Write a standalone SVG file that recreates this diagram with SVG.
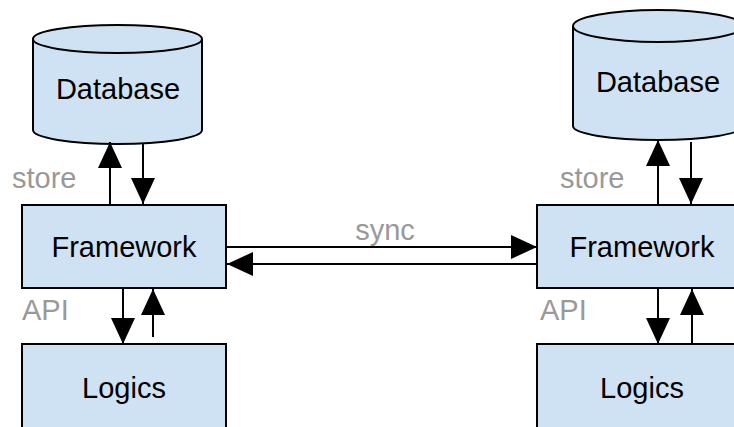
<svg xmlns="http://www.w3.org/2000/svg" width="734" height="427" viewBox="0 0 734 427">
  <style>
    .shape { fill: #cfe2f3; stroke: #000; stroke-width: 2; }
    .title { font-family: "Liberation Sans", Arial, sans-serif; font-size: 29px; fill: #000; text-anchor: middle; }
    .label { font-family: "Liberation Sans", Arial, sans-serif; font-size: 29px; fill: #999; }
    .link { stroke: #000; stroke-width: 2; fill: none; marker-end: url(#head); }
  </style>
  <defs>
    <marker id="head" markerUnits="userSpaceOnUse" markerWidth="26" markerHeight="26" viewBox="0 0 26 26" refX="26" refY="13" orient="auto">
      <path d="M0,1 L26,13 L0,25 Z" fill="#000"/>
    </marker>
  </defs>

  <rect width="734" height="427" fill="#fff"/>

  <!-- left stack -->
  <g id="db-left">
    <path class="shape" d="M33,39 L33,130 A84.5,14 0 0 0 202,130 L202,39 A84.5,14 0 0 0 33,39 Z"/>
    <path class="shape" d="M33,39 A84.5,14 0 0 0 202,39" fill="none"/>
    <text class="title" x="118" y="99">Database</text>
  </g>
  <g id="fw-left">
    <rect class="shape" x="22" y="205" width="204" height="83"/>
    <text class="title" x="124" y="257">Framework</text>
  </g>
  <g id="logic-left">
    <rect class="shape" x="22" y="344" width="204" height="100"/>
    <text class="title" x="124" y="398">Logics</text>
  </g>

  <!-- right stack -->
  <g id="db-right">
    <path class="shape" d="M573,26 L573,126 A85,14 0 0 0 743,126 L743,26 A85,16 0 0 0 573,26 Z"/>
    <path class="shape" d="M573,26 A85,16 0 0 0 743,26" fill="none"/>
    <text class="title" x="658" y="92">Database</text>
  </g>
  <g id="fw-right">
    <rect class="shape" x="537" y="205" width="210" height="83"/>
    <text class="title" x="642" y="257">Framework</text>
  </g>
  <g id="logic-right">
    <rect class="shape" x="537" y="344" width="210" height="100"/>
    <text class="title" x="642" y="398">Logics</text>
  </g>

  <!-- connectors -->
  <g id="connectors">
    <line class="link" x1="110" y1="205" x2="110" y2="142"/>
    <line class="link" x1="143" y1="143" x2="143" y2="204"/>
    <line class="link" x1="123" y1="288" x2="123" y2="344"/>
    <line class="link" x1="153" y1="337" x2="153" y2="289"/>

    <line class="link" x1="658" y1="205" x2="658" y2="140"/>
    <line class="link" x1="691" y1="142" x2="691" y2="204"/>
    <line class="link" x1="658" y1="288" x2="658" y2="344"/>
    <line class="link" x1="692" y1="344" x2="692" y2="289"/>

    <line class="link" x1="226" y1="247" x2="537" y2="247"/>
    <line class="link" x1="537" y1="264" x2="227" y2="264"/>
  </g>

  <!-- labels -->
  <g id="labels">
    <text class="label" x="12" y="188">store</text>
    <text class="label" x="22" y="320">API</text>
    <text class="label" x="560" y="188">store</text>
    <text class="label" x="540" y="320">API</text>
    <text class="label" x="385" y="240" text-anchor="middle">sync</text>
  </g>
</svg>
